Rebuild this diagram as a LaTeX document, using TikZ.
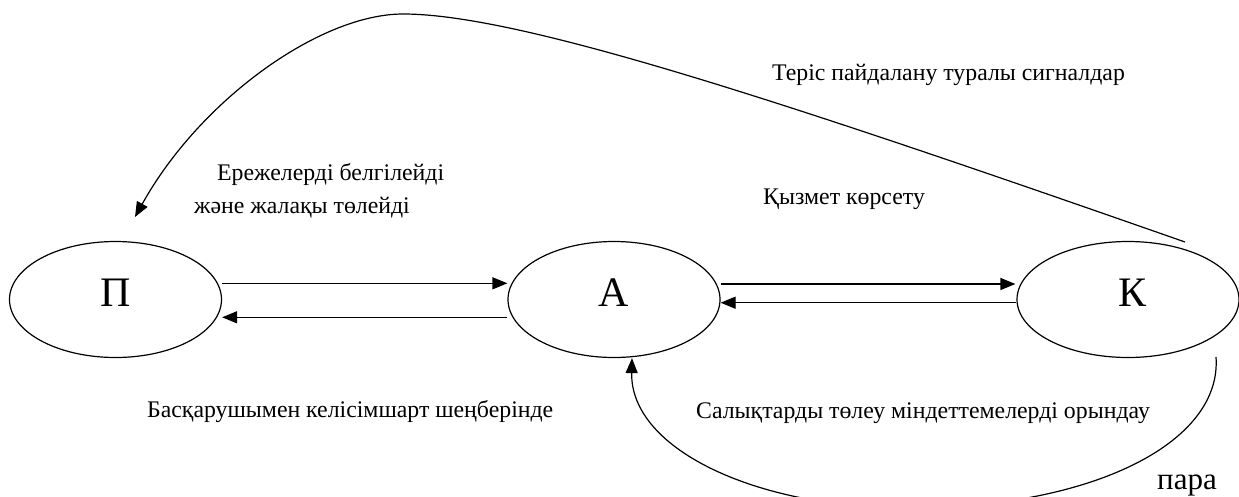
\documentclass[tikz,border=0pt]{standalone}
\usepackage{fontspec}
\setmainfont{Liberation Serif}
\usetikzlibrary{arrows.meta,shapes.geometric,calc}
\begin{document}
\begin{tikzpicture}[x=1pt,y=-1pt,
  ell/.style={draw, ellipse, line width=1.2pt, inner sep=0pt,
    minimum width=212pt, minimum height=116pt,
    font=\fontsize{42}{42}\selectfont, text height=20pt, text depth=7pt},
  arr/.style={line width=1.2pt, -{Triangle[length=15pt,width=12pt]}},
  lbl/.style={anchor=base west, inner sep=0pt, font=\fontsize{23.8}{28}\selectfont}]
\useasboundingbox (0,0) rectangle (1239,496);
\clip (0,0) rectangle (1239,496);

\node[ell] (P) at (115.5,299.5) {П};
\node[ell] (A) at (614,299.5) {А};
\node[ell, minimum width=222pt] (K) at (1128,299.5) {\hspace*{8pt}К};

% horizontal connectors
\draw[arr] ($(P.east)+(0,-16.2)$) -- ($(A.west)+(0,-16.2)$);
\draw[arr] ($(A.west)+(0,17.8)$) -- ($(P.east)+(0,17.8)$);
\draw[arr] ($(A.east)+(0,-15.5)$) -- ($(K.west)+(-1,-15.5)$);
\draw[arr] ($(K.west)+(0,3.2)$) -- ($(A.east)+(0,3.2)$);

% feedback curve K -> P
\coordinate (ptip) at (135,217);
\coordinate (ktop) at (1185,242);
\draw[arr] (ktop) .. controls (785,102) and (520,14) .. (403,14)
  .. controls (320,14) and (200,100) .. (ptip);

% bottom curve K -> A
\coordinate (kb) at (1216,357);
\draw[arr] (kb) .. controls (1222,440) and (1100,505) .. (920,508)
  .. controls (760,511) and (630,450) .. ($(A.south)+(18,0)$);

% labels
\node[lbl] (l1) at (772,80) {Теріс пайдалану туралы сигналдар};
\node[lbl] (l2) at (217,180) {Ережелерді белгілейді};
\node[lbl] (l3) at (194,213) {және жалақы төлейді};
\node[lbl] (l4) at (763,204) {Қызмет көрсету};
\node[lbl] (l5) at (147,417) {Басқарушымен келісімшарт шеңберінде};
\node[lbl] (l6) at (696,418) {Салықтарды төлеу міндеттемелерді орындау};
\node[lbl, font=\fontsize{31}{31}\selectfont] (l7) at (1157,489) {пара};
\end{tikzpicture}
\end{document}
